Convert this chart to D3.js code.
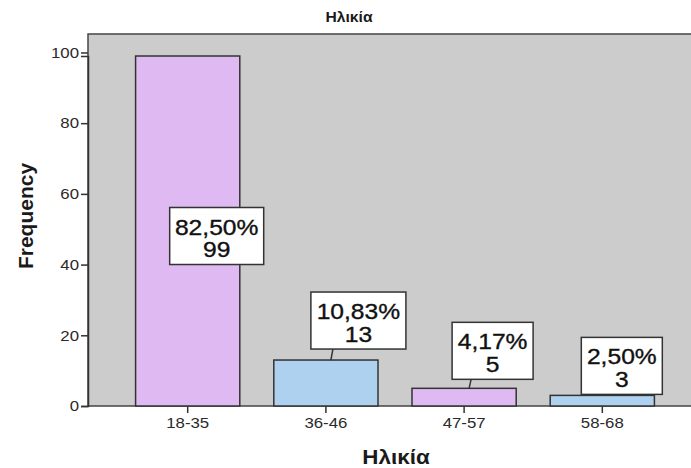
<!DOCTYPE html>
<html>
<head>
<meta charset="utf-8">
<script src="https://cdn.jsdelivr.net/npm/d3@7"></script>
<style>
  html, body { margin: 0; padding: 0; background: #ffffff; }
  svg { display: block; font-family: "Liberation Sans", Arial, sans-serif; }
</style>
</head>
<body>
<svg id="chart" width="691" height="468"></svg>
<script>
// Age groups and their frequencies
const categories = ["18-35", "36-46", "47-57", "58-68"];
const counts = [99, 13, 5, 3];
const percentLabels = ["82,50%", "10,83%", "4,17%", "2,50%"];
const yTicks = [0, 20, 40, 60, 80, 100];
const barColors = ["#dfb9f1", "#aed1ef", "#dfb9f1", "#aed1ef"];

const W = 691, H = 468;
const plot = { left: 88, top: 34, right: 701, bottom: 406 };
const SX = 1.12; // horizontal widening of the lettering

const svg = d3.select("#chart");

// Plot background
svg.append("rect")
  .attr("x", plot.left).attr("y", plot.top)
  .attr("width", plot.right - plot.left).attr("height", plot.bottom - plot.top)
  .attr("fill", "#cccccc")
  .attr("stroke", "#444").attr("stroke-width", 1.5);

const x = d3.scaleBand()
  .domain(categories)
  .range([119, 671])
  .paddingInner(0.246)
  .paddingOuter(0.12);

const y = d3.scaleLinear().domain([0, 99]).range([plot.bottom, 56]);

// Bars
svg.append("g").selectAll("rect")
  .data(categories)
  .join("rect")
  .attr("x", d => x(d))
  .attr("y", (d, i) => y(counts[i]))
  .attr("width", x.bandwidth())
  .attr("height", (d, i) => plot.bottom - y(counts[i]))
  .attr("fill", (d, i) => barColors[i])
  .attr("stroke", "#333")
  .attr("stroke-width", 1.5);

// Y axis
const yAxis = svg.append("g")
  .attr("transform", `translate(${plot.left},0)`)
  .call(d3.axisLeft(y).tickValues(yTicks).tickSize(7).tickPadding(2).tickFormat(d3.format("d")));
yAxis.select(".domain").attr("stroke", "#333").attr("stroke-width", 1.5);
yAxis.selectAll(".tick line").attr("stroke", "#333").attr("stroke-width", 1.5);
yAxis.selectAll(".tick text")
  .attr("font-size", 15).attr("fill", "#2a2a2a")
  .attr("font-family", "Liberation Sans, Arial, sans-serif")
  .attr("x", -9 / SX)
  .attr("transform", `scale(${SX},1)`);

// X axis
const xAxis = svg.append("g")
  .attr("transform", `translate(0,${plot.bottom})`)
  .call(d3.axisBottom(x).tickSize(7).tickPadding(4));
xAxis.select(".domain").remove();
xAxis.selectAll(".tick line").attr("stroke", "#333").attr("stroke-width", 1.5);
xAxis.selectAll(".tick text")
  .attr("font-size", 15).attr("fill", "#2a2a2a")
  .attr("font-family", "Liberation Sans, Arial, sans-serif")
  .attr("transform", `scale(${SX},1)`);

// Value labels: offset of each box from its bar, and box size
const boxOffsets = [
  { dx: 29, w: 94, bottomGap: 0 },
  { dx: 32.5, w: 95, bottomGap: 11 },
  { dx: 28.5, w: 81, bottomGap: 9 },
  { dx: 19.5, w: 81, bottomGap: 1 }
];
const boxH = 57;

function stretchedText(g, tx, ty, size, weight, str) {
  return g.append("text")
    .attr("transform", `translate(${tx},${ty}) scale(${SX},1)`)
    .attr("text-anchor", "middle")
    .attr("font-size", size)
    .attr("font-weight", weight)
    .attr("fill", "#111")
    .text(str);
}

const labels = svg.append("g");
categories.forEach((c, i) => {
  const bx = x(c) + x.bandwidth() / 2 + boxOffsets[i].dx;
  let top;
  if (i === 0) {
    top = y(counts[i] / 2) - boxH / 2 + 5;
  } else {
    top = y(counts[i]) - boxOffsets[i].bottomGap - boxH;
  }
  if (boxOffsets[i].bottomGap > 2) {
    const barCx = x(c) + x.bandwidth() / 2;
    labels.append("line")
      .attr("x1", barCx + 7).attr("y1", top + boxH)
      .attr("x2", barCx + 5).attr("y2", y(counts[i]))
      .attr("stroke", "#333").attr("stroke-width", 1.5);
  }
  labels.append("rect")
    .attr("x", bx - boxOffsets[i].w / 2).attr("y", top)
    .attr("width", boxOffsets[i].w).attr("height", boxH)
    .attr("fill", "#ffffff").attr("stroke", "#333").attr("stroke-width", 1.5);
  stretchedText(labels, bx, top + 27, 22, "normal", percentLabels[i])
    .attr("stroke", "#111").attr("stroke-width", 0.35);
  stretchedText(labels, bx, top + 49.5, 22, "normal", counts[i])
    .attr("stroke", "#111").attr("stroke-width", 0.35);
});

// Titles
stretchedText(svg, 349, 22, 14, "bold", "Ηλικία").attr("fill", "#1a1a1a");
stretchedText(svg, 396, 464, 20, "bold", "Ηλικία").attr("fill", "#1a1a1a");

svg.append("text")
  .attr("transform", "translate(33,216) rotate(-90)")
  .attr("text-anchor", "middle").attr("font-size", 21).attr("font-weight", "bold")
  .attr("fill", "#1a1a1a")
  .text("Frequency");
</script>
</body>
</html>
